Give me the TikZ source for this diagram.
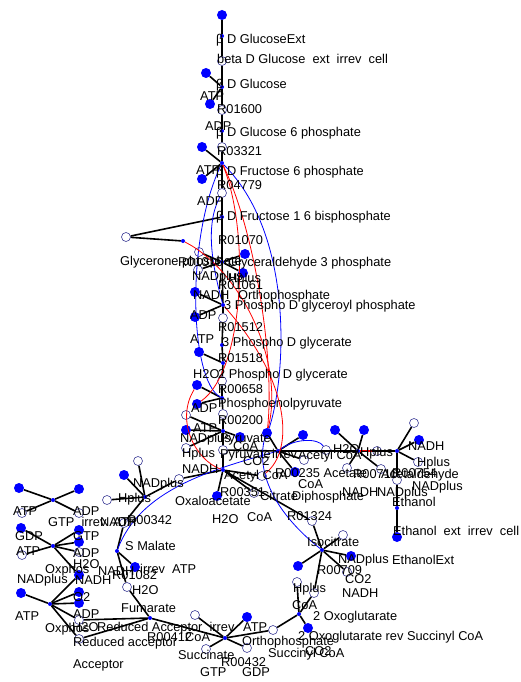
\documentclass[tikz,border=0pt]{standalone}
\usepackage{fontspec}
\setmainfont{Liberation Sans}
\usepackage{xcolor}
\usepackage{tikz}
\definecolor{navy}{RGB}{60,60,150}
\tikzstyle{met} = [circle, fill=blue, inner sep=0pt, minimum size=10pt]
\tikzstyle{side} = [circle, draw=navy, fill=white, line width=0.6pt, inner sep=0pt, minimum size=9pt]
\tikzstyle{hub} = [circle, fill=blue, inner sep=0pt, minimum size=4pt]
\tikzstyle{lab} = [anchor=west, inner sep=0pt, text height=9pt, text depth=2.5pt]
\tikzstyle{link} = [line width=1.6pt]
\tikzstyle{bluelink} = [blue, line width=0.8pt]
\tikzstyle{redlink} = [red, line width=0.8pt]

\begin{document}
\begin{tikzpicture}[x=1pt, y=-1pt, font=\fontsize{12.8}{14}\selectfont]
\useasboundingbox (0,0) rectangle (520,682);
% glycolysis
\node (m01) [met] at (222,15) {};
\node (glcext) [hub] at (222,36) {};
\node (rglc) [side] at (222,61) {};
\node (glc) [hub] at (222,87) {};
\node (m02) [met] at (206,73) {};
\node (m03) [met] at (210,104) {};
\node (rhk) [side] at (222,110) {};
\node (gsix) [hub] at (222,131) {};
\node (rpgi) [side] at (222,147) {};
\node (fsix) [hub] at (222,163) {};
\node (m04) [met] at (202,147) {};
\node (m05) [met] at (202,179) {};
\node (rpfk) [side] at (222,193) {};
\node (fbp) [hub] at (222,217) {};
\node (s01) [side] at (126,237) {};
\node (dhap) [hub] at (183,241) {};
\node (gap) [hub] at (222,262) {};
\node (s02) [side] at (199,252) {};
\node (s03) [side] at (198,270) {};
\node (m06) [met] at (245,254) {};
\node (m07) [met] at (243,273) {};
\node (m08) [met] at (195,292) {};
\node (bpg) [hub] at (223,305) {};
\node (m09) [met] at (195,317) {};
\node (rpgk) [side] at (223,318) {};
\node (pgthree) [hub] at (222,345) {};
\node (m10) [met] at (199,352) {};
\node (pgm) [hub] at (223,363) {};
\node (m11) [met] at (197,385) {};
\node (reno) [side] at (222,381) {};
\node (pep) [hub] at (222,398) {};
\node (m12) [met] at (197,404) {};
\node (s04) [side] at (186,415) {};
\node (rpyk) [side] at (223,414) {};
\node (m13) [met] at (186,430) {};
\node (pyr) [hub] at (223,431) {};
\node (m14) [met] at (240,437) {};
\node (s06) [side] at (186,448) {};
\node (s05) [side] at (223,450) {};
\node (accoa) [hub] at (223,470) {};
\node (s08) [side] at (179,479) {};
\node (m15) [met] at (217,496) {};
\node (s09) [side] at (254,493) {};
\node (s07) [side] at (262,476) {};
\node (s10) [side] at (312,521) {};
% acetate and ethanol
\node (acs) [hub] at (278,451) {};
\node (m16) [met] at (267,433) {};
\node (m17) [met] at (303,435) {};
\node (m18) [met] at (295,472) {};
\node (s13) [side] at (304,460) {};
\node (s11) [side] at (326,450) {};
\node (ald) [hub] at (358,451) {};
\node (m19) [met] at (335,430) {};
\node (m20) [met] at (364,430) {};
\node (s12) [side] at (347,468) {};
\node (s14) [side] at (381,469) {};
\node (s15) [side] at (377,451) {};
\node (adh) [hub] at (397,451) {};
\node (s16) [side] at (414,423) {};
\node (m21) [met] at (419,440) {};
\node (s17) [side] at (418,462) {};
\node (s18) [side] at (397,480) {};
\node (etoh) [hub] at (397,508) {};
\node (m22) [met] at (397,537) {};
% citric acid cycle
\node (icit) [hub] at (322,550) {};
\node (s19) [side] at (343,535) {};
\node (m23) [met] at (298,566) {};
\node (m24) [met] at (351,556) {};
\node (s20) [side] at (347,572) {};
\node (s21) [side] at (314,593) {};
\node (akg) [hub] at (299,614) {};
\node (s22) [side] at (297,582) {};
\node (m25) [met] at (308,628) {};
\node (s23) [side] at (273,630) {};
\node (suc) [hub] at (225,638) {};
\node (s24) [side] at (195,615) {};
\node (m26) [met] at (247,617) {};
\node (s25) [side] at (247,648) {};
\node (s26) [side] at (206,649) {};
\node (fum) [hub] at (150,618) {};
\node (s27) [side] at (79,620) {};
\node (s28) [side] at (79,639) {};
\node (s29) [side] at (127,587) {};
\node (m27) [met] at (135,567) {};
\node (mal) [hub] at (117,551) {};
\node (s37) [side] at (124,523) {};
\node (mdh) [hub] at (145,497) {};
\node (s34) [side] at (138,461) {};
\node (m37) [met] at (124,475) {};
\node (s35) [side] at (107,500) {};
% energy
\node (oxphos) [hub] at (50,604) {};
\node (m28) [met] at (21,593) {};
\node (m29) [met] at (79,575) {};
\node (m30) [met] at (79,592) {};
\node (m31) [met] at (79,603) {};
\node (ndk) [hub] at (53,546) {};
\node (m32) [met] at (21,528) {};
\node (m33) [met] at (79,530) {};
\node (m34) [met] at (79,542) {};
\node (s30) [side] at (79,552) {};
\node (s31) [side] at (22,555) {};
\node (adk) [hub] at (53,500) {};
\node (m35) [met] at (19,488) {};
\node (m36) [met] at (79,489) {};
\node (s32) [side] at (22,513) {};
\node (s33) [side] at (79,513) {};
\coordinate (pyrbend) at (264,441);

\draw [link] (m01) -- (glcext) -- (rglc) -- (glc) -- (rhk) -- (gsix) -- (rpgi) -- (fsix) -- (rpfk) -- (fbp) -- (gap) -- (bpg) -- (rpgk) -- (pgthree) -- (pgm) -- (reno) -- (pep) -- (rpyk) -- (pyr) -- (s05) -- (accoa);
\draw [link] (m02) -- (glc);
\draw [link] (m03) -- (glc);
\draw [link] (m04) -- (fsix);
\draw [link] (m05) -- (fsix);
\draw [link] (s01) -- (fbp);
\draw [link] (s01) -- (dhap);
\draw [link] (s02) -- (gap);
\draw [link] (s03) -- (gap);
\draw [link] (m06) -- (gap);
\draw [link] (m07) -- (gap);
\draw [link] (m08) -- (bpg);
\draw [link] (m09) -- (bpg);
\draw [link] (m10) -- (pgm);
\draw [link] (m11) -- (pep);
\draw [link] (m12) -- (pep);
\draw [link] (s04) -- (pyr);
\draw [link] (m13) -- (pyr);
\draw [link] (m14) -- (pyr);
\draw [link] (s06) -- (pyr);
\draw [link] (accoa) -- (m15);
\draw [link] (accoa) -- (s09);
\draw [link] (accoa) -- (s07);
\draw [link] (accoa) -- (s08) -- (mdh);
\draw [link] (accoa) -- (s10) -- (icit);
\draw [link] (s05) -- (acs) -- (ald) -- (adh);
\draw [link] (acs) -- (m16);
\draw [link] (acs) -- (m17);
\draw [link] (acs) -- (m18);
\draw [link] (acs) -- (s13);
\draw [link] (ald) -- (m19);
\draw [link] (ald) -- (m20);
\draw [link] (ald) -- (s12);
\draw [link] (ald) -- (s14);
\draw [red, line width=1.6pt] (ald) -- (s15);
\draw [link] (adh) -- (s16);
\draw [link] (adh) -- (m21);
\draw [link] (adh) -- (s17);
\draw [link] (adh) -- (s18) -- (etoh) -- (m22);
\draw [link] (icit) -- (s19);
\draw [link] (icit) -- (m23);
\draw [link] (icit) -- (m24);
\draw [link] (icit) -- (s20);
\draw [link] (icit) -- (s21) -- (akg);
\draw [link] (akg) -- (s22);
\draw [link] (akg) -- (m25);
\draw [link] (akg) -- (s23) -- (suc);
\draw [link] (suc) -- (s24);
\draw [link] (suc) -- (m26);
\draw [link] (suc) -- (s25);
\draw [link] (suc) -- (s26);
\draw [link] (suc) -- (fum);
\draw [link] (fum) -- (s27);
\draw [link] (fum) -- (s28);
\draw [link] (fum) -- (s29) -- (mal);
\draw [link] (mal) -- (m27);
\draw [link] (mal) -- (s37) -- (mdh);
\draw [link] (mdh) -- (s34);
\draw [link] (mdh) -- (m37);
\draw [link] (mdh) -- (s35);
\draw [link] (oxphos) -- (m28);
\draw [link] (oxphos) -- (m29);
\draw [link] (oxphos) -- (m30);
\draw [link] (oxphos) -- (m31);
\draw [link] (oxphos) -- (s27);
\draw [link] (oxphos) -- (s28);
\draw [link] (ndk) -- (m29);
\draw [link] (ndk) -- (m32);
\draw [link] (ndk) -- (m33);
\draw [link] (ndk) -- (m34);
\draw [link] (ndk) -- (s30);
\draw [link] (ndk) -- (s31);
\draw [link] (adk) -- (m35);
\draw [link] (adk) -- (m36);
\draw [link] (adk) -- (s32);
\draw [link] (adk) -- (s33);

\draw [bluelink] (fsix) .. controls (185,240) and (190,380) .. (pep);
\draw [bluelink] (rpfk) .. controls (205,225) and (212,265) .. (bpg);
\draw [bluelink] (fsix) .. controls (300,240) and (285,400) .. (pyrbend) .. controls (255,485) and (290,525) .. (icit);
\draw [bluelink] (mal) .. controls (140,490) and (210,470) .. (acs);
\draw [bluelink] (acs) .. controls (295,438) and (318,438) .. (s11);
\draw [redlink] (fsix) .. controls (250,230) and (245,370) .. (m12);
\draw [redlink] (fsix) .. controls (255,230) and (275,360) .. (m16);
\draw [redlink] (dhap) .. controls (240,270) and (285,360) .. (m16);
\draw [redlink] (bpg) .. controls (290,380) and (295,450) .. (s07);
\draw [redlink] (m11) .. controls (175,420) and (195,460) .. (accoa);

% labels
\node (t1) [lab] at (216,40) {β D GlucoseExt};
\node (t2) [lab] at (217,60) {beta D Glucose~~ext~~irrev~~cell};
\node (t3) [lab] at (216,85) {β D Glucose};
\node (t4) [lab] at (200,97) {ATP};
\node (t5) [lab] at (217,110) {R01600};
\node (t6) [lab] at (205,127) {ADP};
\node (t7) [lab] at (216,133) {β D Glucose 6 phosphate};
\node (t8) [lab] at (217,152) {R03321};
\node (t9) [lab] at (196,171) {ATP};
\node (t10) [lab] at (216,172) {β D Fructose 6 phosphate};
\node (t11) [lab] at (217,186) {R04779};
\node (t12) [lab] at (197,202) {ADP};
\node (t13) [lab] at (216,217) {β D Fructose 1 6 bisphosphate};
\node (t14) [lab] at (218,241) {R01070};
\node (t15) [lab] at (120,262) {Glycerone phosphate};
\node (t16) [lab] at (178,263) {R01015};
\node (t17) [lab] at (228,263) {Glyceraldehyde 3 phosphate};
\node (t18) [lab] at (192,277) {NADplus};
\node (t19) [lab] at (228,279) {Hplus};
\node (t20) [lab] at (218,286) {R01061};
\node (t21) [lab] at (193,296) {NADH};
\node (t22) [lab] at (238,296) {Orthophosphate};
\node (t23) [lab] at (224,306) {3 Phospho D glyceroyl phosphate};
\node (t24) [lab] at (190,316) {ADP};
\node (t25) [lab] at (218,328) {R01512};
\node (t26) [lab] at (190,340) {ATP};
\node (t27) [lab] at (222,343) {3 Phospho D glycerate};
\node (t28) [lab] at (218,359) {R01518};
\node (t29) [lab] at (193,375) {H2O};
\node (t30) [lab] at (218,375) {2 Phospho D glycerate};
\node (t31) [lab] at (218,390) {R00658};
\node (t32) [lab] at (218,404) {Phosphoenolpyruvate};
\node (t33) [lab] at (191,409) {ADP};
\node (t34) [lab] at (218,421) {R00200};
\node (t35) [lab] at (193,429) {ATP};
\node (t36) [lab] at (180,439) {NADplus};
\node (t37) [lab] at (220,439) {Pyruvate};
\node (t38) [lab] at (233,447) {CoA};
\node (t39) [lab] at (182,454) {Hplus};
\node (t40) [lab] at (220,455) {Pyruvate};
\node (t41) [lab] at (272,455) {irrev};
\node (t42) [lab] at (298,456) {Acetyl CoA};
\node (t43) [lab] at (243,462) {CO2};
\node (t44) [lab] at (182,470) {NADH};
\node (t45) [lab] at (224,476) {Acetyl CoA};
\node (t46) [lab] at (275,474) {R00235 Acetate};
\node (t47) [lab] at (353,475) {R00710};
\node (t48) [lab] at (381,475) {Acetaldehyde};
\node (t49) [lab] at (392,474) {R00754};
\node (t50) [lab] at (333,450) {H2O};
\node (t51) [lab] at (360,453) {Hplus};
\node (t52) [lab] at (408,447) {NADH};
\node (t53) [lab] at (417,463) {Hplus};
\node (t54) [lab] at (412,487) {NADplus};
\node (t55) [lab] at (342,493) {NADH};
\node (t56) [lab] at (377,493) {NADplus};
\node (t57) [lab] at (392,503) {Ethanol};
\node (t58) [lab] at (393,532) {Ethanol~~ext~~irrev~~cell};
\node (t59) [lab] at (338,560) {NADplus};
\node (t60) [lab] at (392,561) {EthanolExt};
\node (t61) [lab] at (220,493) {R00351};
\node (t62) [lab] at (175,502) {Oxaloacetate};
\node (t63) [lab] at (260,497) {Citrate};
\node (t64) [lab] at (298,485) {CoA};
\node (t65) [lab] at (292,497) {Diphosphate};
\node (t66) [lab] at (212,520) {H2O};
\node (t67) [lab] at (247,518) {CoA};
\node (t68) [lab] at (287,517) {R01324};
\node (t69) [lab] at (307,543) {Isocitrate};
\node (t70) [lab] at (317,571) {R00709};
\node (t71) [lab] at (345,580) {CO2};
\node (t72) [lab] at (342,594) {NADH};
\node (t73) [lab] at (293,589) {Hplus};
\node (t74) [lab] at (292,606) {CoA};
\node (t75) [lab] at (313,617) {2 Oxoglutarate};
\node (t76) [lab] at (298,637) {2 Oxoglutarate rev Succinyl CoA};
\node (t77) [lab] at (305,652) {CO2};
\node (t78) [lab] at (268,654) {Succinyl CoA};
\node (t79) [lab] at (242,642) {Orthophosphate};
\node (t80) [lab] at (243,628) {ATP};
\node (t81) [lab] at (97,628) {Reduced Acceptor~~irrev};
\node (t82) [lab] at (147,638) {R00412};
\node (t83) [lab] at (185,638) {CoA};
\node (t84) [lab] at (178,656) {Succinate};
\node (t85) [lab] at (221,663) {R00432};
\node (t86) [lab] at (200,673) {GTP};
\node (t87) [lab] at (242,673) {GDP};
\node (t88) [lab] at (121,609) {Fumarate};
\node (t89) [lab] at (132,591) {H2O};
\node (t90) [lab] at (112,576) {R01082};
\node (t91) [lab] at (98,572) {NADH};
\node (t92) [lab] at (140,570) {irrev~~ATP};
\node (t93) [lab] at (45,570) {Oxphos};
\node (t94) [lab] at (73,554) {ADP};
\node (t95) [lab] at (73,565) {H2O};
\node (t96) [lab] at (75,581) {NADH};
\node (t97) [lab] at (17,580) {NADplus};
\node (t98) [lab] at (73,598) {O2};
\node (t99) [lab] at (15,617) {ATP};
\node (t100) [lab] at (73,615) {ADP};
\node (t101) [lab] at (45,629) {Oxphos};
\node (t102) [lab] at (72,628) {H2O};
\node (t103) [lab] at (73,643) {Reduced acceptor};
\node (t104) [lab] at (73,665) {Acceptor};
\node (t105) [lab] at (13,512) {ATP};
\node (t106) [lab] at (73,512) {ADP};
\node (t107) [lab] at (48,523) {GTP~~irrev};
\node (t108) [lab] at (100,523) {NADH};
\node (t109) [lab] at (113,523) {ATP};
\node (t110) [lab] at (127,521) {R00342};
\node (t111) [lab] at (15,537) {GDP};
\node (t112) [lab] at (73,537) {GTP};
\node (t113) [lab] at (16,552) {ATP};
\node (t114) [lab] at (133,484) {NADplus};
\node (t115) [lab] at (118,499) {Hplus};
\node (t116) [lab] at (125,547) {S Malate};
\end{tikzpicture}
\end{document}
